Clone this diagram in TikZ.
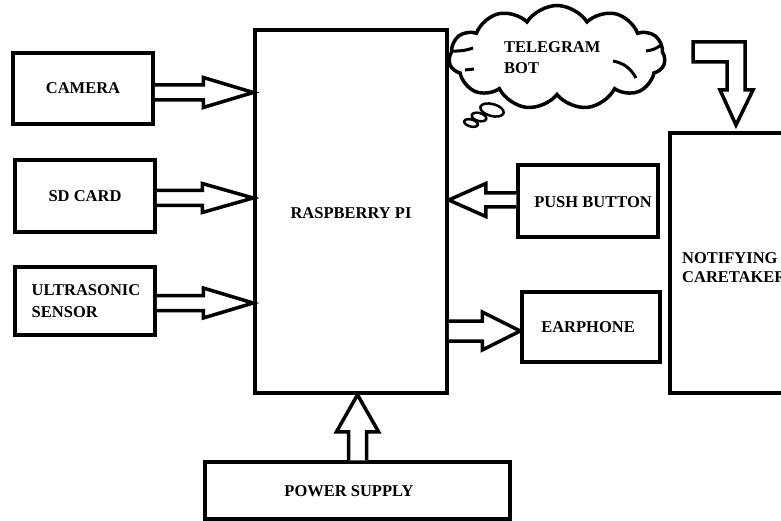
\documentclass[tikz,border=0pt]{standalone}
\usepackage{fontspec}
\setmainfont{Liberation Serif}
\usetikzlibrary{calc,shapes.symbols}
\tikzset{
  box/.style={draw, line width=3.5pt, rectangle, inner sep=0pt, fill=white},
  lbl/.style={font=\fontsize{16.5}{20}\selectfont\bfseries, inner sep=0pt},
  arr/.style={draw, line width=3.5pt, fill=white},
}
\newcommand\harr[6]{%
  \draw[arr] ($(#1)+(0,-#3)$) -- ($(#2)+({-(#6)*#5},-#3)$) -- ($(#2)+({-(#6)*#5},-#4)$) -- (#2)
   -- ($(#2)+({-(#6)*#5},#4)$) -- ($(#2)+({-(#6)*#5},#3)$) -- ($(#1)+(0,#3)$);}
\begin{document}
\begin{tikzpicture}[x=1pt,y=-1pt]
\clip (0,0) rectangle (781,521);
\fill[white] (0,0) rectangle (781,521);
% boxes
\node[box, minimum width=140pt, minimum height=71pt] (cam) at (83,88.5) {};
\node[lbl] (camt) at (cam.center) {CAMERA};
\node[box, minimum width=140pt, minimum height=72pt] (sd) at (85,196) {};
\node[lbl] (sdt) at (sd.center) {SD CARD};
\node[box, minimum width=140pt, minimum height=68pt] (us) at (85,301) {};
\node[lbl, align=left, font=\fontsize{16.5}{22}\selectfont\bfseries] (ust) at (86,301) {ULTRASONIC\\SENSOR};
\node[box, minimum width=192pt, minimum height=363pt] (pi) at (351,211.5) {};
\node[lbl] (pit) at (351,213) {RASPBERRY PI};
\node[box, minimum width=140pt, minimum height=72pt] (pb) at (588,201) {};
\node[lbl] (pbt) at (593,202) {PUSH BUTTON};
\node[box, minimum width=138pt, minimum height=70pt] (ep) at (591,327) {};
\node[lbl] (ept) at (588,327) {EARPHONE};
\node[box, minimum width=305pt, minimum height=57pt] (ps) at (357.5,490.5) {};
\node[lbl] (pst) at (349,491) {POWER SUPPLY};
\node[box, minimum width=200pt, minimum height=260pt] (nc) at (770,263) {};
\node[lbl, anchor=west, align=left, font=\fontsize{16.5}{19}\selectfont\bfseries] (nct) at (682,267.5) {NOTIFYING\\CARETAKER};
% cloud
\node[cloud, draw, line width=3.5pt, cloud puffs=11, cloud puff arc=115, aspect=2.1,
      minimum width=216pt, minimum height=104pt, inner sep=0pt] (cl) at (557,57.5) {};
\draw[line width=3pt] (453,51) to[bend right=10] (473,48);
\draw[line width=3pt] (465,70) -- (474,69);
\draw[line width=3pt] (613,61) to[bend left=25] (636,78);
\draw[line width=3pt] (646,51) to[bend right=15] (661,45);
\draw[line width=2.5pt, rotate around={-15:(492,110)}] (492,110) ellipse (12 and 6);
\draw[line width=2.5pt, rotate around={-15:(479,117)}] (479,117) ellipse (7.5 and 4);
\draw[line width=2.5pt, rotate around={-15:(471,123)}] (471,123) ellipse (7 and 3.5);
\node[lbl, anchor=west, align=left, font=\fontsize{16.5}{21}\selectfont\bfseries] (tb) at (504,57.5) {TELEGRAM\\BOT};
% arrow end points
\coordinate (camtip) at ($(pi.west |- cam.east)+(0,4)$);
\coordinate (cams) at (cam.east |- camtip);
\coordinate (sdtip) at ($(pi.west |- sd.east)+(0,2)$);
\coordinate (sds) at (sd.east |- sdtip);
\coordinate (ustip) at ($(pi.west |- us.east)+(0,2)$);
\coordinate (uss) at (us.east |- ustip);
\coordinate (pbtip) at ($(pi.east |- pb.west)+(0,-1)$);
\coordinate (pbs) at (pb.west |- pbtip);
\coordinate (eptip) at ($(ep.west)+(0,4)$);
\coordinate (eps) at (pi.east |- eptip);
\coordinate (pwtip) at (ps.north |- pi.south);
\coordinate (pws) at (ps.north);
\harr{cams}{camtip}{7.5}{15}{50}{1}
\harr{sds}{sdtip}{7.5}{14.5}{51}{1}
\harr{uss}{ustip}{7.5}{15}{50}{1}
\harr{pbs}{pbtip}{7}{16.5}{37}{-1}
\harr{eps}{eptip}{10}{19}{38}{1}
\draw[arr] ($(pws)+(-9,0)$) -- ($(pwtip)+(-9,37)$) -- ($(pwtip)+(-21,37)$) -- (pwtip)
  -- ($(pwtip)+(21,37)$) -- ($(pwtip)+(9,37)$) -- ($(pws)+(9,0)$);
% bent arrow to caretaker
\coordinate (btip) at (736,125);
\draw[arr] (693,42) -- (745,42) -- (745,90) -- (753,90) -- (btip) -- (720,90) -- (727,90)
  -- (727,62) -- (693,62) -- cycle;
\end{tikzpicture}
\end{document}
